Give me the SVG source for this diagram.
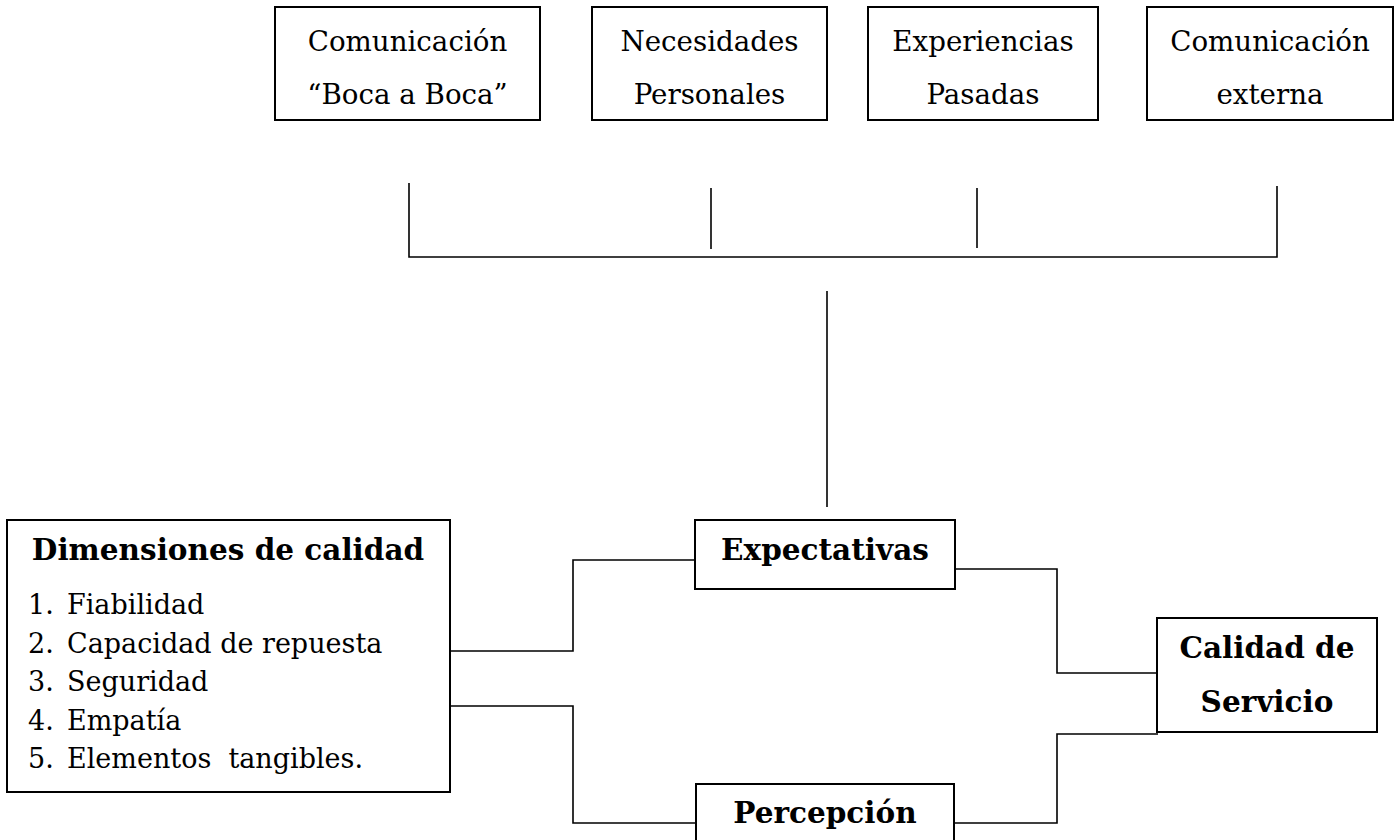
<svg xmlns="http://www.w3.org/2000/svg" width="1398" height="840" viewBox="0 0 1398 840">
<style>
  .box { fill: #fff; stroke: #000; stroke-width: 2; }
  .ln { fill: none; stroke: #000; stroke-width: 1.6; }
  text { font-family: "DejaVu Serif", "Liberation Serif", serif; fill: #000; }
  .t { font-size: 27.7px; text-anchor: middle; }
  .b { font-size: 29.5px; font-weight: bold; text-anchor: middle; }
  .li { font-size: 27px; }
</style>
<rect width="1398" height="840" fill="#fff"/>
<g id="connectors">
  <path class="ln" d="M409,183 V257 H1277 V186"/>
  <path class="ln" d="M711,188 V249"/>
  <path class="ln" d="M977,188 V248"/>
  <path class="ln" d="M827,291 V507"/>
  <path class="ln" d="M451,651 H573 V560 H695"/>
  <path class="ln" d="M451,706 H573 V823 H695"/>
  <path class="ln" d="M955,569 H1057 V673 H1158"/>
  <path class="ln" d="M954,823 H1057 V734 H1158"/>
</g>
<g id="n-boca">
  <rect class="box" x="275" y="7" width="265" height="113"/>
  <text class="t" x="407.5" y="51">Comunicación</text>
  <text class="t" x="407.5" y="104">“Boca a Boca”</text>
</g>
<g id="n-necesidades">
  <rect class="box" x="592" y="7" width="235" height="113"/>
  <text class="t" x="709.5" y="51">Necesidades</text>
  <text class="t" x="709.5" y="104">Personales</text>
</g>
<g id="n-experiencias">
  <rect class="box" x="868" y="7" width="230" height="113"/>
  <text class="t" x="983" y="51">Experiencias</text>
  <text class="t" x="983" y="104">Pasadas</text>
</g>
<g id="n-externa">
  <rect class="box" x="1147" y="7" width="246" height="113"/>
  <text class="t" x="1270" y="51">Comunicación</text>
  <text class="t" x="1270" y="104">externa</text>
</g>
<g id="n-dimensiones">
  <rect class="box" x="7" y="520" width="443" height="272"/>
  <text class="b" x="228" y="560">Dimensiones de calidad</text>
  <text class="li" x="28" y="614">1.</text><text class="li" x="67" y="614">Fiabilidad</text>
  <text class="li" x="28" y="653">2.</text><text class="li" x="67" y="653">Capacidad de repuesta</text>
  <text class="li" x="28" y="691">3.</text><text class="li" x="67" y="691">Seguridad</text>
  <text class="li" x="28" y="730">4.</text><text class="li" x="67" y="730">Empatía</text>
  <text class="li" x="28" y="768">5.</text><text class="li" x="67" y="768" xml:space="preserve">Elementos  tangibles.</text>
</g>
<g id="n-expectativas">
  <rect class="box" x="695" y="520" width="260" height="69"/>
  <text class="b" x="825" y="560">Expectativas</text>
</g>
<g id="n-percepcion">
  <rect class="box" x="696" y="784" width="258" height="70"/>
  <text class="b" x="825" y="823">Percepción</text>
</g>
<g id="n-calidad">
  <rect class="box" x="1157" y="618" width="220" height="114"/>
  <text class="b" x="1267" y="658">Calidad de</text>
  <text class="b" x="1267" y="712">Servicio</text>
</g>
</svg>
